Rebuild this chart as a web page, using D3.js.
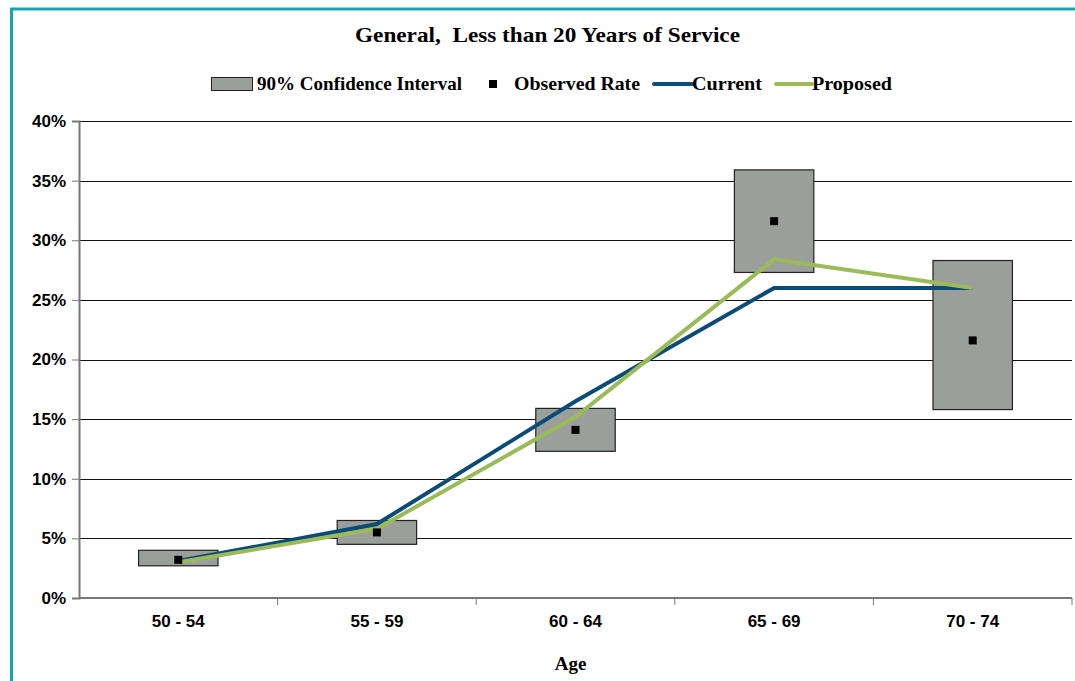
<!DOCTYPE html>
<html>
<head>
<meta charset="utf-8">
<script src="https://cdn.jsdelivr.net/npm/d3@7"></script>
<style>
  body { margin: 0; background: #fff; }
</style>
</head>
<body>
<div id="chart"></div>
<script>
// chart data
var ages = ["50 - 54", "55 - 59", "60 - 64", "65 - 69", "70 - 74"];
var ciLow = [0.027, 0.045, 0.123, 0.273, 0.158];
var ciHigh = [0.040, 0.065, 0.159, 0.359, 0.283];
var observed = [0.032, 0.055, 0.141, 0.316, 0.216];
var current = [0.031, 0.062, 0.165, 0.260, 0.260];
var proposed = [0.030, 0.058, 0.152, 0.284, 0.260];
var yTicks = [0, 0.05, 0.10, 0.15, 0.20, 0.25, 0.30, 0.35, 0.40];

var W = 1075, H = 681;
var margin = {top: 121, right: 3, bottom: 83, left: 79},
    width = W - margin.left - margin.right,
    height = H - margin.top - margin.bottom;

var serif = "'Liberation Serif', 'Times New Roman', serif";
var sans = "'Liberation Sans', Arial, sans-serif";

var root = d3.select("#chart")
  .append("svg")
    .attr("width", W)
    .attr("height", H);

// teal frame
root.append("path")
  .attr("d", "M11.5," + H + " L11.5,9 L" + W + ",9")
  .attr("fill", "none")
  .attr("stroke", "#19a4b4")
  .attr("stroke-width", 3);

// title
root.append("text")
  .attr("x", 355).attr("y", 42)
  .attr("textLength", 385)
  .attr("lengthAdjust", "spacingAndGlyphs")
  .style("font-family", serif)
  .style("font-weight", "bold")
  .style("font-size", "22px")
  .style("white-space", "pre")
  .text("General,  Less than 20 Years of Service");

var svg = root.append("g")
  .attr("transform", "translate(" + margin.left + "," + margin.top + ")");

// scales
var x = d3.scaleBand()
  .domain(ages)
  .range([0, width])
  .padding(0);

var y = d3.scaleLinear()
  .domain([0, 0.40])
  .range([height, 0]);

// gridlines
svg.append("g")
  .selectAll("line")
  .data(yTicks.slice(1))
  .enter().append("line")
    .attr("x1", 0).attr("x2", width)
    .attr("y1", function(d) { return Math.round(y(d)) + 0.5; })
    .attr("y2", function(d) { return Math.round(y(d)) + 0.5; })
    .attr("stroke", "#111")
    .attr("stroke-width", 1);

// y axis
var yAxis = svg.append("g")
  .call(d3.axisLeft(y).tickValues(yTicks).tickSize(7).tickPadding(6)
    .tickFormat(d3.format(".0%")));
yAxis.select(".domain").attr("stroke", "#777").attr("stroke-width", 2);
yAxis.selectAll(".tick line").attr("stroke", "#777");
yAxis.selectAll("text")
  .style("font-family", sans)
  .style("font-weight", "bold")
  .style("font-size", "17px")
  .attr("fill", "#000");

// x axis
svg.append("line")
  .attr("x1", 0).attr("x2", width)
  .attr("y1", height).attr("y2", height)
  .attr("stroke", "#777").attr("stroke-width", 2);
svg.append("g")
  .selectAll("line")
  .data(ages)
  .enter().append("line")
    .attr("x1", function(d) { return x(d) + x.bandwidth(); })
    .attr("x2", function(d) { return x(d) + x.bandwidth(); })
    .attr("y1", height).attr("y2", height + 7)
    .attr("stroke", "#777");
svg.append("g")
  .selectAll("text")
  .data(ages)
  .enter().append("text")
    .attr("x", function(d) { return x(d) + x.bandwidth() / 2; })
    .attr("y", height + 29)
    .attr("text-anchor", "middle")
    .style("font-family", sans)
    .style("font-weight", "bold")
    .style("font-size", "17px")
    .text(function(d) { return d; });

svg.append("text")
  .attr("x", width / 2 - 5)
  .attr("y", height + 72)
  .attr("text-anchor", "middle")
  .style("font-family", serif)
  .style("font-weight", "bold")
  .style("font-size", "19px")
  .text("Age");

// confidence interval boxes
var boxW = x.bandwidth() * 0.4;
svg.append("g")
  .selectAll("rect")
  .data(ages)
  .enter().append("rect")
    .attr("x", function(d) { return x(d) + x.bandwidth() / 2 - boxW / 2; })
    .attr("y", function(d, i) { return y(ciHigh[i]); })
    .attr("width", boxW)
    .attr("height", function(d, i) { return y(ciLow[i]) - y(ciHigh[i]); })
    .attr("fill", "#9a9f9b")
    .attr("stroke", "#222")
    .attr("stroke-width", 1.2);

// lines
var cx = function(d, i) { return x(ages[i]) + x.bandwidth() / 2; };
var line = d3.line()
  .x(cx)
  .y(function(d) { return y(d); });

svg.append("path")
  .datum(current)
  .attr("d", line)
  .attr("fill", "none")
  .attr("stroke", "#0b4b78")
  .attr("stroke-width", 4);

svg.append("path")
  .datum(proposed)
  .attr("d", line)
  .attr("fill", "none")
  .attr("stroke", "#9bbb59")
  .attr("stroke-width", 4);

// observed markers
svg.append("g")
  .selectAll("rect")
  .data(observed)
  .enter().append("rect")
    .attr("x", function(d, i) { return cx(d, i) - 4; })
    .attr("y", function(d) { return y(d) - 4; })
    .attr("width", 8)
    .attr("height", 8)
    .attr("fill", "#000");

// legend
var lg = root.append("g")
  .style("font-family", serif)
  .style("font-weight", "bold")
  .style("font-size", "19px");
lg.append("rect")
  .attr("x", 211.5).attr("y", 77.5).attr("width", 41).attr("height", 13)
  .attr("fill", "#9a9f9b").attr("stroke", "#222");
lg.append("text").attr("x", 257).attr("y", 90)
  .attr("textLength", 205).attr("lengthAdjust", "spacingAndGlyphs")
  .text("90% Confidence Interval");
lg.append("rect")
  .attr("x", 489).attr("y", 80).attr("width", 8).attr("height", 8)
  .attr("fill", "#000");
lg.append("text").attr("x", 514).attr("y", 90)
  .attr("textLength", 126).attr("lengthAdjust", "spacingAndGlyphs")
  .text("Observed Rate");
lg.append("line")
  .attr("x1", 654).attr("x2", 692).attr("y1", 84).attr("y2", 84)
  .attr("stroke", "#0b4b78").attr("stroke-width", 4)
  .attr("stroke-linecap", "round");
lg.append("text").attr("x", 692).attr("y", 90)
  .attr("textLength", 70).attr("lengthAdjust", "spacingAndGlyphs")
  .text("Current");
lg.append("line")
  .attr("x1", 776).attr("x2", 812).attr("y1", 84).attr("y2", 84)
  .attr("stroke", "#9bbb59").attr("stroke-width", 4)
  .attr("stroke-linecap", "round");
lg.append("text").attr("x", 812).attr("y", 90)
  .attr("textLength", 80).attr("lengthAdjust", "spacingAndGlyphs")
  .text("Proposed");
</script>
</body>
</html>
